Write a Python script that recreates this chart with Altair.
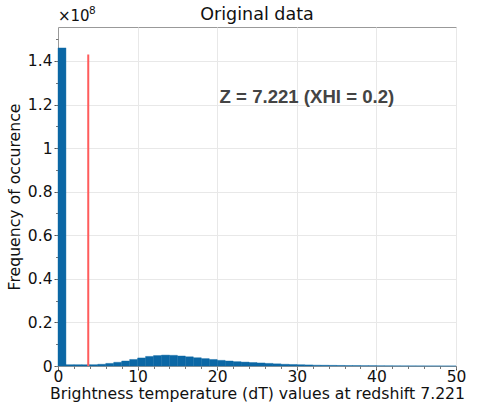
import altair as alt
import pandas as pd

# histogram bins (width 1), counts in units of 1e8
bin_start = list(range(0, 50))
counts = [1.46, 0.006, 0.006, 0.006, 0.006, 0.008, 0.012, 0.017, 0.023, 0.030,
          0.037, 0.044, 0.048, 0.050, 0.049, 0.046, 0.042, 0.038, 0.034, 0.030,
          0.026, 0.023, 0.020, 0.018, 0.016, 0.014, 0.012, 0.010, 0.008, 0.007,
          0.006, 0.005, 0.004, 0.0035, 0.003, 0.0025, 0.002, 0.002, 0.0015, 0.0015,
          0.001, 0.0008, 0.0006, 0.0005, 0.0004, 0.0003, 0.0002, 0.0002, 0.0001, 0.0001]
bin_end = [b + 1 for b in bin_start]

line_x = [3.8]
line_top = [1.43]

x_major = [0, 10, 20, 30, 40, 50]
x_minor = list(range(0, 51, 2))
y_major = [0, 0.2, 0.4, 0.6, 0.8, 1.0, 1.2, 1.4]
y_minor = [round(i * 0.1, 1) for i in range(0, 16)]

YMAX = 1.556
blue = "#0b67a5"
red = "#ff5c5c"
font = "DejaVu Sans"

hist = pd.DataFrame({"start": bin_start, "end": bin_end, "count": counts})
rule_df = pd.DataFrame({"x": line_x, "top": line_top})

xscale = alt.Scale(domain=[0, 50], nice=False, zero=False)
yscale = alt.Scale(domain=[0, YMAX], nice=False, zero=True)

bars = alt.Chart(hist).mark_rect(color=blue, stroke=blue, strokeWidth=0.4).encode(
    x=alt.X("start:Q", scale=xscale,
            axis=alt.Axis(values=x_major, title="Brightness temperature (dT) values at redshift 7.221",
                          orient="bottom", grid=True, gridColor="#e8e8e8",
                          tickSize=4, tickColor="#555", domainColor="#999",
                          labelFont=font, labelFontSize=15.5, labelColor="#111",
                          titleFont=font, titleFontSize=15.7, titleFontWeight="normal",
                          titleColor="#111", labelPadding=-1, titlePadding=2, labelFlush=False)),
    x2="end:Q",
    y=alt.Y("count:Q", scale=yscale,
            axis=alt.Axis(values=y_major, format="~g", title="Frequency of occurence",
                          orient="left", grid=True, gridColor="#e8e8e8",
                          tickSize=4, tickColor="#555", domainColor="#999",
                          labelFont=font, labelFontSize=15.5, labelColor="#111",
                          titleFont=font, titleFontSize=15.7, titleFontWeight="normal",
                          titleColor="#111", labelPadding=2, titlePadding=5)),
    y2=alt.datum(0),
)

minor = alt.Chart(pd.DataFrame({"xm": x_minor[:len(y_minor)], "ym": y_minor})).mark_point(opacity=0).encode(
    x=alt.X("xm:Q", scale=xscale,
            axis=alt.Axis(values=x_minor, labels=False, title=None, grid=False, domain=False,
                          orient="bottom", tickSize=2.5, tickColor="#777")),
    y=alt.Y("ym:Q", scale=yscale,
            axis=alt.Axis(values=y_minor, labels=False, title=None, grid=False, domain=False,
                          orient="left", tickSize=2.5, tickColor="#777")),
)

rule = alt.Chart(rule_df).mark_rule(color=red, strokeWidth=2).encode(
    x=alt.X("x:Q", scale=xscale, axis=None),
    y=alt.Y("top:Q", scale=yscale, axis=None),
    y2=alt.datum(0),
)


def label(x, y, t, **kw):
    return alt.Chart(pd.DataFrame({"x": [x], "y": [y], "t": [t]})).mark_text(**kw).encode(
        x=alt.X("x:Q", scale=xscale, axis=None),
        y=alt.Y("y:Q", scale=yscale, axis=None),
        text="t:N",
    )


note = label(20.3, 1.235, "Z = 7.221 (XHI = 0.2)", align="left", baseline="middle",
             font="Liberation Sans", fontSize=18.6, fontWeight="bold", color="#444")
expo = label(0, YMAX, "×10", align="left", baseline="bottom", font=font, fontSize=15,
             color="#111", dy=-3)
expo8 = label(0, YMAX, "8", align="left", baseline="bottom", font=font, fontSize=10.5,
              color="#111", dy=-11, dx=31)
title = label(25, YMAX, "Original data", align="center", baseline="bottom", font=font,
              fontSize=17.5, color="#111", dy=-3)

chart = alt.layer(bars, rule, minor, note, expo, expo8, title).resolve_axis(
    x="independent", y="independent"
).properties(
    width=398, height=339,
    autosize=alt.AutoSizeParams(type="none"),
    padding={"left": 58, "top": 27, "right": 25, "bottom": 38},
    background="white",
).configure_view(stroke="#999", strokeWidth=1)

chart.save("out.html", embed_options={"renderer": "svg", "actions": False})
